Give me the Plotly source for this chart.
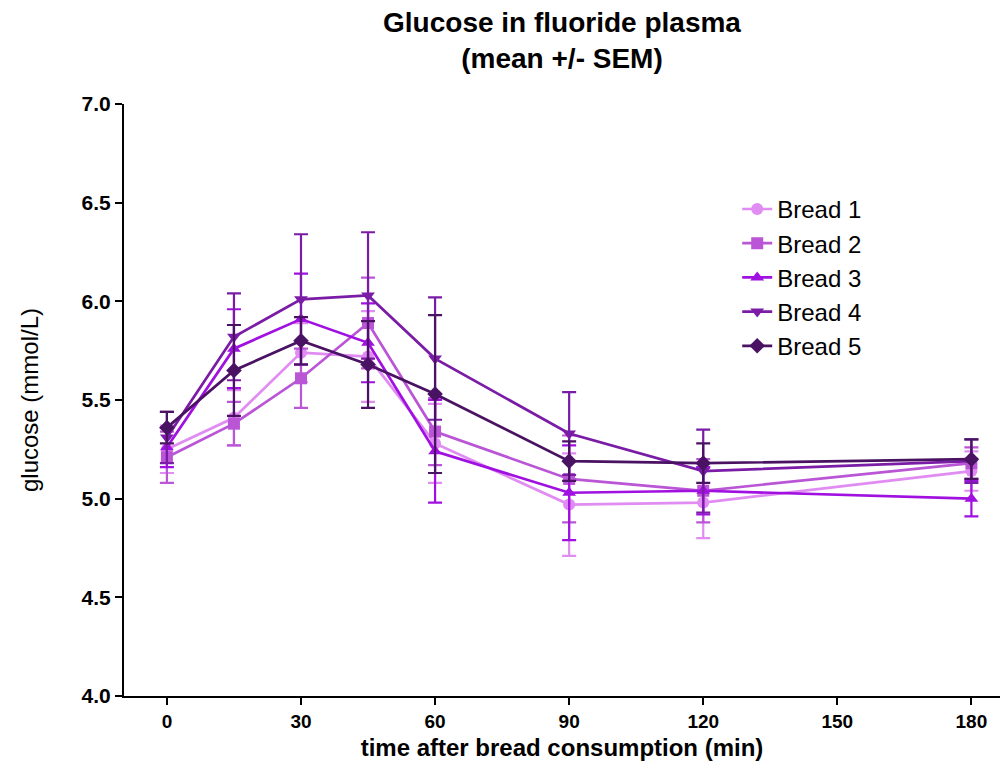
import plotly.graph_objects as go

times = [0, 15, 30, 45, 60, 90, 120, 180]
series_names = ["Bread 1", "Bread 2", "Bread 3", "Bread 4", "Bread 5"]
bread1_mean = [5.25, 5.41, 5.74, 5.72, 5.28, 4.97, 4.98, 5.14]
bread1_sem = [0.12, 0.14, 0.15, 0.23, 0.20, 0.26, 0.18, 0.10]
bread2_mean = [5.21, 5.38, 5.61, 5.89, 5.34, 5.10, 5.04, 5.18]
bread2_sem = [0.13, 0.11, 0.15, 0.23, 0.17, 0.22, 0.16, 0.08]
bread3_mean = [5.26, 5.76, 5.91, 5.79, 5.24, 5.03, 5.04, 5.00]
bread3_sem = [0.10, 0.20, 0.23, 0.20, 0.26, 0.24, 0.12, 0.09]
bread4_mean = [5.31, 5.82, 6.01, 6.03, 5.71, 5.33, 5.14, 5.19]
bread4_sem = [0.13, 0.22, 0.33, 0.32, 0.31, 0.21, 0.21, 0.11]
bread5_mean = [5.36, 5.65, 5.80, 5.68, 5.53, 5.19, 5.18, 5.20]
bread5_sem = [0.08, 0.23, 0.12, 0.22, 0.40, 0.10, 0.10, 0.10]
y_ticks = [4.0, 4.5, 5.0, 5.5, 6.0, 6.5, 7.0]
x_ticks = [0, 30, 60, 90, 120, 150, 180]

means = [bread1_mean, bread2_mean, bread3_mean, bread4_mean, bread5_mean]
sems = [bread1_sem, bread2_sem, bread3_sem, bread4_sem, bread5_sem]
colors = ["#E08CF2", "#BA56D6", "#A010E0", "#7A1CA6", "#4A1262"]
symbols = ["circle", "square", "triangle-up", "triangle-down", "diamond"]

fig = go.Figure()
for i, (name, m, s, c, sym) in enumerate(zip(series_names, means, sems, colors, symbols)):
    fig.add_trace(go.Scatter(
        x=times, y=m, name=name, mode="lines+markers", legendgroup=f"g{i}",
        line=dict(color=c, width=2.7),
        marker=dict(symbol=sym, size=12, color=c),
        error_y=dict(type="data", array=s, visible=True, color=c, thickness=2.2, width=7),
    ))

font = "Liberation Sans, Arial, sans-serif"
fig.update_layout(
    width=1001, height=769,
    margin=dict(l=124, r=1, t=104, b=73),
    plot_bgcolor="white", paper_bgcolor="white",
    font=dict(family=font, color="black"),
    title=dict(text="<b>Glucose in fluoride plasma<br>(mean +/- SEM)</b>",
               x=(124 + 1000) / 2 / 1001, xanchor="center",
               y=1 - 32 / 769, yanchor="bottom", yref="container",
               font=dict(size=28, family=font)),
    legend=dict(x=0.70, y=0.86, xanchor="left", yanchor="top",
                font=dict(size=24, family=font), bgcolor="rgba(0,0,0,0)",
                tracegroupgap=0, itemwidth=30),
    showlegend=True,
)
fig.update_xaxes(
    range=[-9.6, 186.4], tickvals=x_ticks, ticktext=[f"<b>{t}</b>" for t in x_ticks],
    showgrid=False, zeroline=False, showline=True, linecolor="black", linewidth=2,
    ticks="outside", ticklen=7, tickwidth=2, tickcolor="black",
    tickfont=dict(size=19, family=font),
    title=dict(text="<b>time after bread consumption (min)</b>", font=dict(size=24, family=font), standoff=8),
)
fig.update_yaxes(
    range=[4.0, 7.0], tickvals=y_ticks, ticktext=[f"<b>{v:.1f}</b>" for v in y_ticks],
    showgrid=False, zeroline=False, showline=True, linecolor="black", linewidth=2,
    ticks="outside", ticklen=7, tickwidth=2, tickcolor="black",
    tickfont=dict(size=21, family=font),
    title=dict(text="glucose (mmol/L)", font=dict(size=24, family=font), standoff=36),
)
fig.write_html("out.html")
